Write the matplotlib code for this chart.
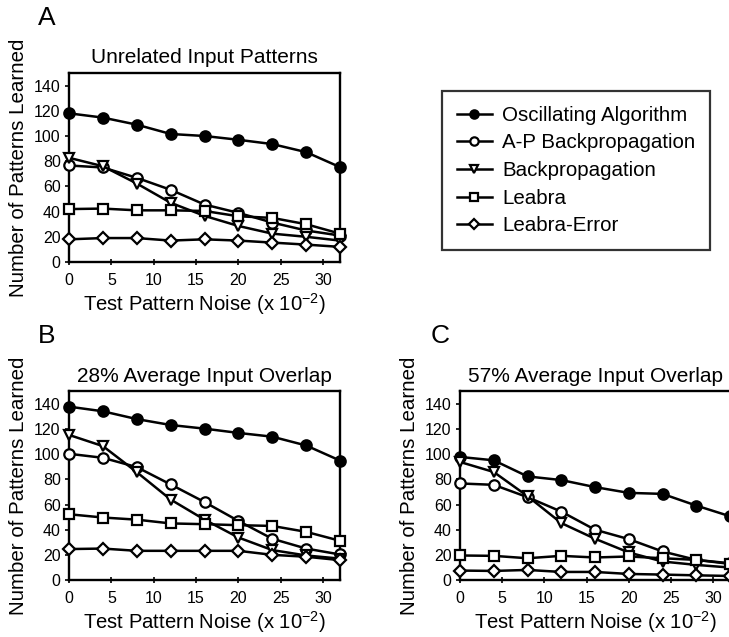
import matplotlib
matplotlib.use("Agg")
import matplotlib.pyplot as plt

plt.rcParams["font.family"] = ["Liberation Sans", "DejaVu Sans"]
plt.rcParams["mathtext.fontset"] = "custom"
plt.rcParams["mathtext.rm"] = "Liberation Sans"
plt.rcParams["mathtext.it"] = "Liberation Sans"

# test pattern noise (x 10^-2)
noise = [0, 4, 8, 12, 16, 20, 24, 28, 32]

# panel A: unrelated input patterns
a_osc = [118, 114.6, 109, 101.6, 100, 97, 93.6, 87.2, 75.3]
a_apbp = [76.6, 75, 66.8, 57.3, 45.6, 39, 31.3, 25, 21]
a_bp = [82.7, 76, 62.3, 47, 36.6, 28.6, 22.5, 20, 17]
a_leabra = [42, 42.4, 41, 41, 40.5, 36.3, 35, 30, 22.5]
a_lerr = [18, 19, 19, 17, 18, 17, 15.4, 13.8, 12]

# panel B: 28% average input overlap
b_osc = [137.9, 134.2, 128, 123.3, 120.4, 117, 114, 107, 95]
b_apbp = [100.4, 97.2, 89.8, 76, 62, 47, 32.8, 25, 20.3]
b_bp = [115.4, 106.5, 85.8, 64, 48, 33.8, 23.8, 19.5, 17]
b_leabra = [52.3, 49.7, 48, 45, 44.4, 43.6, 43, 38.3, 31.2]
b_lerr = [24.6, 25, 23.2, 23.2, 23.2, 23.2, 20, 18.5, 15.8]

# panel C: 57% average input overlap
c_osc = [97.9, 95.2, 82.4, 79.5, 73.9, 69.3, 68.5, 59.2, 50.7]
c_apbp = [76.8, 75.7, 65.9, 54.4, 40, 32.5, 22.7, 16, 13.3]
c_bp = [93.9, 85.9, 66.7, 45.3, 32.8, 21.9, 14.7, 12, 9.9]
c_leabra = [19.5, 19.2, 17.3, 19.2, 17.9, 18.7, 17.3, 16, 12.8]
c_lerr = [7.5, 7.2, 8, 6.4, 6.4, 4.8, 4.3, 3.7, 3.2]

labels = ["Oscillating Algorithm", "A-P Backpropagation", "Backpropagation",
          "Leabra", "Leabra-Error"]
markers = ["o", "o", "v", "s", "D"]
faces = ["black", "white", "white", "white", "white"]
msizes = [7.5, 7.5, 7.5, 6.5, 6.5]

panels = [
    ("A", "Unrelated Input Patterns", [a_osc, a_apbp, a_bp, a_leabra, a_lerr]),
    ("B", "28% Average Input Overlap", [b_osc, b_apbp, b_bp, b_leabra, b_lerr]),
    ("C", "57% Average Input Overlap", [c_osc, c_apbp, c_bp, c_leabra, c_lerr]),
]
rects = [
    [0.0947, 0.5887, 0.3717, 0.2967],
    [0.0947, 0.0895, 0.3717, 0.2960],
    [0.6310, 0.0895, 0.3704, 0.2960],
]
letter_pos = [(0.064, 0.991), (0.064, 0.492), (0.604, 0.492)]

fig = plt.figure(figsize=(7.29, 6.37), dpi=100)

handles = []
for (letter, title, series), rect, lpos in zip(panels, rects, letter_pos):
    ax = fig.add_axes(rect)
    for vals, lab, m, fc, ms in zip(series, labels, markers, faces, msizes):
        h, = ax.plot(noise, vals, color="black", lw=1.8, marker=m, ms=ms,
                     mfc=fc, mec="black", mew=1.6, label=lab, clip_on=False,
                     zorder=3)
        if letter == "A":
            handles.append(h)
    ax.set_xlim(0, 32)
    ax.set_ylim(0, 150)
    ax.set_xticks([0, 5, 10, 15, 20, 25, 30])
    ax.set_yticks(range(0, 141, 20))
    for s in ax.spines.values():
        s.set_linewidth(1.7)
    ax.tick_params(axis="y", direction="out", length=3, width=1.2,
                   labelsize=11.5, pad=3)
    ax.tick_params(axis="x", direction="inout", length=4, width=1.2,
                   labelsize=11.5, pad=6)
    ax.set_title(title, fontsize=15, pad=7)
    ax.set_xlabel(r"Test Pattern Noise (x 10$^{\mathregular{-2}}$)",
                  fontsize=14.6, labelpad=2)
    ax.set_ylabel("Number of Patterns Learned", fontsize=14.8, labelpad=4)
    fig.text(lpos[0], lpos[1], letter, fontsize=19, ha="center", va="top")

leg = fig.legend(handles=handles, loc="upper left",
                 bbox_to_anchor=(0.6063, 0.8571), borderaxespad=0,
                 fontsize=14.8, frameon=True, fancybox=False,
                 edgecolor="black", handlelength=1.7, markerscale=0.8,
                 labelspacing=0.42, borderpad=0.72, handletextpad=0.5)
leg.get_frame().set_linewidth(1.6)

fig.savefig("out.png", dpi=100)
